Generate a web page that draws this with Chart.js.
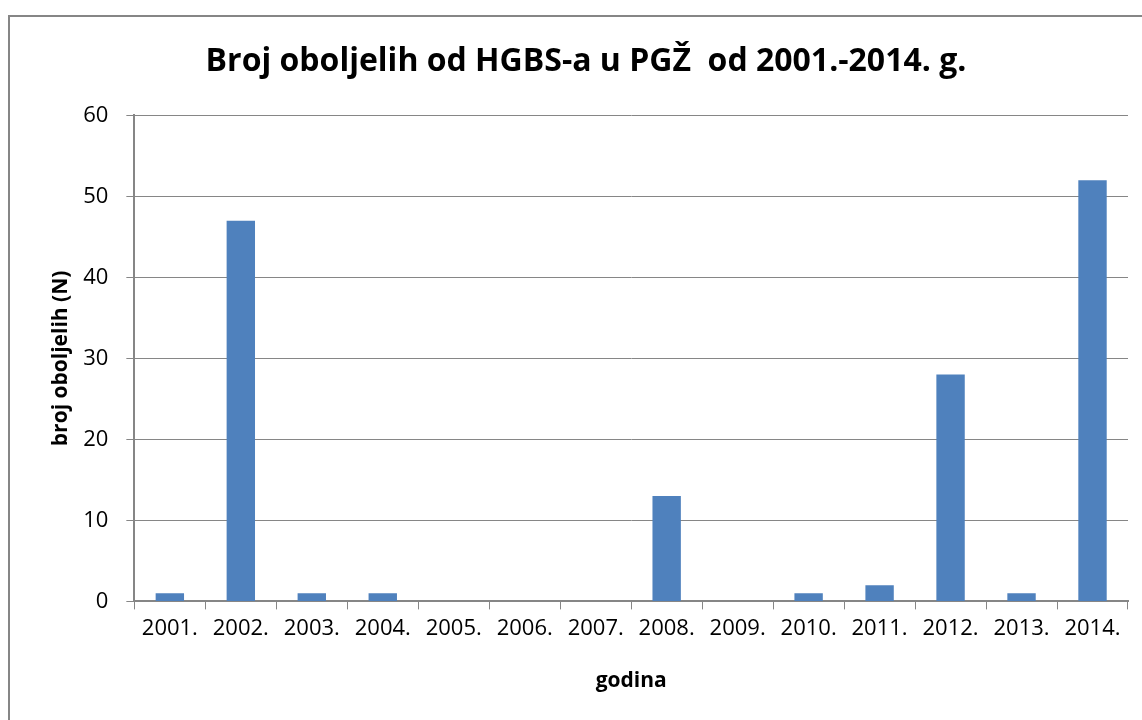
<!DOCTYPE html>
<html>
<head>
<meta charset="utf-8">
<script src="https://cdn.jsdelivr.net/npm/chart.js@4"></script>
<style>
  body { margin: 0; background: #fff; overflow: hidden; }
  #box {
    position: absolute; left: 8px; top: 15px;
    width: 1140px; height: 710px;
    border: 2px solid #868686; background: #fff;
  }
</style>
</head>
<body>
<div id="box"><canvas id="chart" width="1124" height="688"></canvas></div>
<script>
// podaci
const godine = ["2001.", "2002.", "2003.", "2004.", "2005.", "2006.", "2007.",
                "2008.", "2009.", "2010.", "2011.", "2012.", "2013.", "2014."];
const oboljeli = [1, 47, 1, 1, 0, 0, 0, 13, 0, 1, 2, 28, 1, 52];

const font = "'Open Sans', 'Noto Sans', sans-serif";

new Chart(document.getElementById("chart"), {
    type: 'bar',
    data: {
        labels: godine,
        datasets: [{
            label: "broj oboljelih",
            data: oboljeli,
            backgroundColor: "#4f81bd",
            categoryPercentage: 1.0,
            barPercentage: 0.4
        }]
    },
    options: {
        responsive: false,
        animation: false,
        layout: { padding: { left: 34, right: 6, top: 10, bottom: 7 } },
        plugins: {
            legend: { display: false },
            tooltip: { enabled: false },
            title: {
                display: true,
                text: "Broj oboljelih od HGBS-a u PGŽ  od 2001.-2014. g.",
                color: "#000",
                font: { family: font, size: 32, weight: 'bold' },
                padding: { top: 16, bottom: 34 }
            }
        },
        scales: {
            x: {
                offset: true,
                grid: {
                    offset: true,
                    drawOnChartArea: false,
                    drawTicks: true,
                    tickLength: 8,
                    color: "#868686"
                },
                border: { color: "#868686", width: 2 },
                ticks: { color: "#000", font: { family: font, size: 22 }, padding: 6, maxRotation: 0 },
                title: {
                    display: true,
                    text: "godina",
                    color: "#000",
                    font: { family: font, size: 21, weight: 'bold' },
                    padding: { top: 21 }
                }
            },
            y: {
                min: 0,
                max: 60,
                ticks: { stepSize: 10, color: "#000", font: { family: font, size: 22 }, padding: 18 },
                grid: { color: "#868686", lineWidth: 1, tickLength: 8 },
                border: { color: "#868686", width: 2 },
                title: {
                    display: true,
                    text: "broj oboljelih (N)",
                    color: "#000",
                    font: { family: font, size: 21, weight: 'bold' },
                    padding: { top: 4, bottom: -8 }
                }
            }
        }
    }
});
</script>
</body>
</html>
